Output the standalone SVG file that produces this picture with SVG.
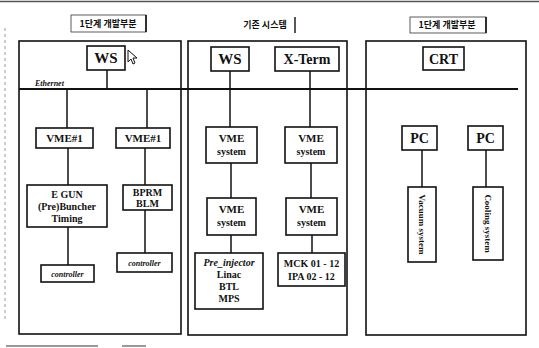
<svg xmlns="http://www.w3.org/2000/svg" width="539" height="348" viewBox="0 0 539 348">
<style>
.bg{fill:#fff}
.panel{fill:none;stroke:#111;stroke-width:1.6}
.box{fill:#fff;stroke:#111;stroke-width:1.6}
.tbox{fill:#fff;stroke:#333;stroke-width:0.8}
.ln{stroke:#111;stroke-width:1.5;fill:none}
.eth{stroke:#111;stroke-width:2;fill:none}
.t{font-family:'Liberation Serif','DejaVu Serif',serif;font-weight:bold;fill:#111;text-anchor:middle}
.ti{font-family:'Liberation Serif','DejaVu Serif',serif;font-weight:bold;font-style:italic;fill:#111}
.k{font-family:'Noto Sans CJK KR','Noto Sans',sans-serif;font-weight:bold;fill:#111;text-anchor:middle;font-size:9px}
.frame{stroke:#999;stroke-width:1;fill:none}
</style>
<rect class="bg" x="0" y="0" width="539" height="348"/>
<g id="frame">
<line x1="0" y1="1.5" x2="539" y2="1.5" stroke="#555" stroke-width="1.5"/>
<line class="frame" x1="5" y1="28" x2="5" y2="322" stroke-dasharray="3,3"/>
<line x1="6" y1="346" x2="98" y2="346" stroke="#333" stroke-width="1.2"/>
<line x1="122" y1="346" x2="146" y2="346" stroke="#555" stroke-width="1.2"/>
</g>
<g id="panels">
<rect class="panel" x="19" y="41" width="162" height="293"/>
<rect class="panel" x="188" y="41" width="159" height="294"/>
<rect class="panel" x="366" y="41" width="160" height="294"/>
</g>
<g id="titles">
<g id="title1"><rect class="tbox" x="71" y="15" width="75" height="17"/><line x1="146" y1="15" x2="146" y2="32" stroke="#111" stroke-width="1.6"/><text class="k" x="108" y="27">1단계 개발부분</text></g>
<g id="title2"><line x1="295" y1="17" x2="295" y2="33" stroke="#111" stroke-width="1.4"/><text class="k" x="265" y="28">기존 시스템</text></g>
<g id="title3"><rect class="tbox" x="410" y="17" width="76" height="16"/><line x1="486" y1="17" x2="486" y2="33" stroke="#111" stroke-width="1.6"/><text class="k" x="447" y="28">1단계 개발부분</text></g>
</g>
<g id="connectors">
<line class="eth" x1="19" y1="89" x2="518" y2="89"/>
<line class="ln" x1="107" y1="70" x2="107" y2="89"/>
<line class="ln" x1="67" y1="89" x2="67" y2="128"/>
<line class="ln" x1="68" y1="148" x2="68" y2="185"/>
<line class="ln" x1="68" y1="227" x2="68" y2="265"/>
<line class="ln" x1="147" y1="89" x2="147" y2="128"/>
<line class="ln" x1="145" y1="148" x2="145" y2="185"/>
<line class="ln" x1="145" y1="210" x2="145" y2="253"/>
<line class="ln" x1="230" y1="71" x2="230" y2="127"/>
<line class="ln" x1="231" y1="163" x2="231" y2="198"/>
<line class="ln" x1="231" y1="235" x2="231" y2="253"/>
<line class="ln" x1="310" y1="71" x2="310" y2="127"/>
<line class="ln" x1="311" y1="163" x2="311" y2="198"/>
<line class="ln" x1="312" y1="235" x2="312" y2="253"/>
<line class="ln" x1="422" y1="150" x2="422" y2="187"/>
<line class="ln" x1="486" y1="150" x2="486" y2="187"/>
</g>
<text class="ti" x="35" y="86" font-size="8">Ethernet</text>
<g id="ws1"><rect class="box" x="87" y="46" width="38" height="24"/><text class="t" x="106" y="63" font-size="15">WS</text></g>
<g id="cursor"><path d="M128,50 L128,62 L131,59 L133,64 L135,63 L133,58 L137,58 Z" fill="#fff" stroke="#111" stroke-width="1"/></g>
<g id="ws2"><rect class="box" x="211" y="47" width="38" height="24"/><text class="t" x="230" y="64" font-size="15">WS</text></g>
<g id="xterm"><rect class="box" x="275" y="47" width="64" height="24"/><text class="t" x="307" y="64" font-size="14">X-Term</text></g>
<g id="crt"><rect class="box" x="423" y="47" width="41" height="23"/><text class="t" x="443.5" y="64" font-size="14">CRT</text></g>
<g id="vme1a"><rect class="box" x="36" y="128" width="57" height="20"/><text class="t" x="64.5" y="142" font-size="11">VME#1</text></g>
<g id="vme1b"><rect class="box" x="116" y="128" width="54" height="20"/><text class="t" x="143" y="142" font-size="11">VME#1</text></g>
<g id="egun"><rect class="box" x="27" y="185" width="80" height="42"/><text class="t" x="67" y="198" font-size="10">E GUN</text><text class="t" x="67" y="210" font-size="10">(Pre)Buncher</text><text class="t" x="67" y="222" font-size="10">Timing</text></g>
<g id="bprm"><rect class="box" x="123" y="185" width="49" height="25"/><text class="t" x="147.5" y="196" font-size="10">BPRM</text><text class="t" x="147.5" y="207" font-size="10">BLM</text></g>
<g id="ctrl1"><rect class="box" x="41" y="265" width="53" height="17"/><text class="t" x="67.5" y="276.5" font-size="8" font-style="italic">controller</text></g>
<g id="ctrl2"><rect class="box" x="117" y="253" width="55" height="19"/><text class="t" x="144.5" y="265.5" font-size="8" font-style="italic">controller</text></g>
<g id="vme2a"><rect class="box" x="206" y="127" width="51" height="36"/><text class="t" x="231.5" y="142" font-size="11">VME</text><text class="t" x="231.5" y="155" font-size="10">system</text></g>
<g id="vme2b"><rect class="box" x="285" y="127" width="52" height="36"/><text class="t" x="311" y="142" font-size="11">VME</text><text class="t" x="311" y="155" font-size="10">system</text></g>
<g id="vme2c"><rect class="box" x="207" y="198" width="49" height="37"/><text class="t" x="231.5" y="213" font-size="11">VME</text><text class="t" x="231.5" y="226" font-size="10">system</text></g>
<g id="vme2d"><rect class="box" x="286" y="198" width="51" height="37"/><text class="t" x="311.5" y="213" font-size="11">VME</text><text class="t" x="311.5" y="226" font-size="10">system</text></g>
<g id="preinj"><rect class="box" x="195" y="253" width="68" height="56"/><text class="t" x="229" y="266" font-size="10" font-style="italic">Pre_injector</text><text class="t" x="229" y="278" font-size="10">Linac</text><text class="t" x="229" y="290" font-size="10">BTL</text><text class="t" x="229" y="302" font-size="10">MPS</text></g>
<g id="mck"><rect class="box" x="278" y="253" width="67" height="33"/><text class="t" x="311.5" y="267" font-size="10">MCK 01 - 12</text><text class="t" x="311.5" y="280" font-size="10">IPA 02 - 12</text></g>
<g id="pc1"><rect class="box" x="402" y="126" width="35" height="24"/><text class="t" x="419.5" y="143" font-size="14">PC</text></g>
<g id="pc2"><rect class="box" x="468" y="126" width="35" height="24"/><text class="t" x="485.5" y="143" font-size="14">PC</text></g>
<g id="vacuum"><rect class="box" x="408" y="187" width="28" height="75"/><text class="t" font-size="9" transform="translate(419,224.5) rotate(90)">Vacuum system</text></g>
<g id="cooling"><rect class="box" x="473" y="187" width="30" height="73"/><text class="t" font-size="9" transform="translate(485,223.5) rotate(90)">Cooling system</text></g>
</svg>
